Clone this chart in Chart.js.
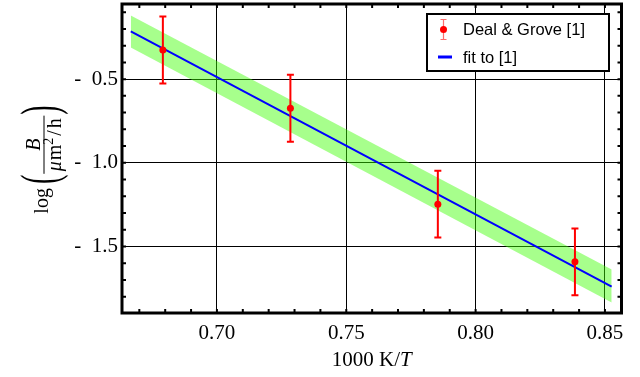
<!DOCTYPE html>
<html>
<head>
<meta charset="utf-8">
<script src="https://cdn.jsdelivr.net/npm/chart.js@4/dist/chart.umd.min.js"></script>
<style>
  html, body { margin: 0; padding: 0; background: #fff; }
  #wrap { width: 640px; height: 377px; }
</style>
</head>
<body>
<div id="wrap"><canvas id="chart" width="640" height="377"></canvas></div>
<script>
// Deal & Grove data
const invTemp = [0.6791, 0.7284, 0.7854, 0.8384];
const logB = [-0.326, -0.674, -1.247, -1.592];
const logBErr = [0.2, 0.2, 0.2, 0.2];

// linear fit and its confidence band
const fitX = [0.6667, 0.8526];
const fitY = [-0.215, -1.740];
const bandUpper = [-0.119, -1.637];
const bandLower = [-0.311, -1.835];

const xTicks = [0.70, 0.75, 0.80, 0.85];
const yTicks = [-1.5, -1.0, -0.5];
const X_MINOR = 0.01;
const Y_MINOR = 0.1;

const SERIF = '"Liberation Serif", "Times New Roman", serif';
const SANS = '"Liberation Sans", Arial, sans-serif';

const toPoints = (xs, ys) => xs.map((x, i) => ({ x, y: ys[i] }));

// vertical error bars for the data points
const errorBars = {
  id: 'errorBars',
  afterDatasetsDraw(chart) {
    const { ctx, scales: { x, y } } = chart;
    ctx.save();
    ctx.strokeStyle = '#ff0000';
    ctx.lineWidth = 2;
    invTemp.forEach((t, i) => {
      const px = x.getPixelForValue(t);
      const top = y.getPixelForValue(logB[i] + logBErr[i]);
      const bot = y.getPixelForValue(logB[i] - logBErr[i]);
      ctx.beginPath();
      ctx.moveTo(px, top); ctx.lineTo(px, bot);
      ctx.moveTo(px - 3.5, top); ctx.lineTo(px + 3.5, top);
      ctx.moveTo(px - 3.5, bot); ctx.lineTo(px + 3.5, bot);
      ctx.stroke();
    });
    ctx.restore();
  }
};

// thick frame with inward tick marks on all four sides
const frame = {
  id: 'frame',
  afterDraw(chart) {
    const { ctx, chartArea: a, scales: { x, y } } = chart;
    ctx.save();
    ctx.strokeStyle = '#000';
    ctx.lineWidth = 2;
    ctx.beginPath();
    const x0 = Math.ceil(x.min / X_MINOR) * X_MINOR;
    for (let v = x0; v <= x.max + 1e-9; v += X_MINOR) {
      const px = x.getPixelForValue(v);
      ctx.moveTo(px, a.bottom); ctx.lineTo(px, a.bottom - 4);
      ctx.moveTo(px, a.top); ctx.lineTo(px, a.top + 4);
    }
    const y0 = Math.ceil(y.min / Y_MINOR) * Y_MINOR;
    for (let v = y0; v <= y.max + 1e-9; v += Y_MINOR) {
      const py = y.getPixelForValue(v);
      ctx.moveTo(a.left, py); ctx.lineTo(a.left + 4, py);
      ctx.moveTo(a.right, py); ctx.lineTo(a.right - 4, py);
    }
    ctx.stroke();
    ctx.lineWidth = 3;
    ctx.strokeRect(a.left, a.top, a.right - a.left, a.bottom - a.top);

    drawLegend(ctx);
    drawXTitle(ctx, a);
    drawYTitle(ctx, a);
    ctx.restore();
  }
};

function drawLegend(ctx) {
  ctx.save();
  ctx.fillStyle = '#fff';
  ctx.fillRect(427, 14, 182, 57);
  ctx.strokeStyle = '#000';
  ctx.lineWidth = 2;
  ctx.strokeRect(427, 14, 182, 57);

  // error-bar marker
  ctx.strokeStyle = 'rgba(255,60,60,0.75)';
  ctx.lineWidth = 1.2;
  ctx.beginPath();
  ctx.moveTo(443.5, 19); ctx.lineTo(443.5, 40);
  ctx.moveTo(440.5, 19.5); ctx.lineTo(446.5, 19.5);
  ctx.moveTo(440.5, 39.5); ctx.lineTo(446.5, 39.5);
  ctx.stroke();
  ctx.fillStyle = '#ff0000';
  ctx.beginPath();
  ctx.arc(443.5, 29.5, 3.5, 0, Math.PI * 2);
  ctx.fill();

  // line marker
  ctx.strokeStyle = '#0000ff';
  ctx.lineWidth = 3;
  ctx.beginPath();
  ctx.moveTo(438, 57); ctx.lineTo(452, 57);
  ctx.stroke();

  ctx.fillStyle = '#000';
  ctx.font = '16.5px ' + SANS;
  ctx.textBaseline = 'alphabetic';
  ctx.fillText('Deal & Grove [1]', 463, 35);
  ctx.fillText('fit to [1]', 463, 63);
  ctx.restore();
}

function drawXTitle(ctx, a) {
  ctx.save();
  ctx.fillStyle = '#000';
  ctx.textBaseline = 'alphabetic';
  const up = '21px ' + SERIF;
  const it = 'italic 21px ' + SERIF;
  ctx.font = up;
  const w1 = ctx.measureText('1000 K/').width;
  ctx.font = it;
  const w2 = ctx.measureText('T').width;
  const x = (a.left + a.right) / 2 - (w1 + w2) / 2;
  ctx.font = up;
  ctx.fillText('1000 K/', x, 366);
  ctx.font = it;
  ctx.fillText('T', x + w1, 366);
  ctx.restore();
}

// tall, thin delimiter: the glyph stretched along its own height
function drawParen(ctx, ch, u, vCenter) {
  ctx.save();
  ctx.font = '20px ' + SERIF;
  const mt = ctx.measureText(ch);
  const mid = (mt.actualBoundingBoxAscent - mt.actualBoundingBoxDescent) / 2;
  ctx.translate(u, vCenter);
  ctx.scale(1.4, 2.6);
  ctx.fillText(ch, 0, mid);
  ctx.restore();
  return mt.width * 1.4;
}

function drawYTitle(ctx, a) {
  const up = '20px ' + SERIF;
  const it = 'italic 20px ' + SERIF;
  const small = '14px ' + SERIF;
  ctx.save();
  ctx.fillStyle = '#000';
  ctx.strokeStyle = '#000';
  ctx.textBaseline = 'alphabetic';
  ctx.translate(0, (a.top + a.bottom) / 2 + 1);
  ctx.rotate(-Math.PI / 2);

  const m = (font, s) => { ctx.font = font; return ctx.measureText(s).width; };
  const wLog = m(up, 'log');
  const wParen = m(up, '(') * 1.4;
  const wNum = m(it, 'B');
  const wMu = m(it, 'μ') + 1, wM = m(up, 'm'), w2 = m(small, '2') + 1;
  const wSlash = m(up, '/') + 3, wH = m(up, 'h');
  const wDen = wMu + wM + w2 + wSlash + wH;
  const wFrac = Math.max(wNum, wDen) + 5;
  const total = wLog + 4 + wParen + 1 + wFrac + 1 + wParen;

  const axis = 44;
  let u = -total / 2;
  ctx.font = up;
  ctx.fillText('log', u, 48);
  u += wLog + 4;
  u += drawParen(ctx, '(', u, axis) + 1;
  // fraction
  ctx.lineWidth = 1;
  ctx.beginPath();
  ctx.moveTo(u, axis); ctx.lineTo(u + wFrac, axis);
  ctx.stroke();
  ctx.font = it;
  ctx.fillText('B', u + (wFrac - wNum) / 2, axis - 4);
  let d = u + (wFrac - wDen) / 2;
  const denBase = axis + 17;
  ctx.fillText('μ', d, denBase); d += wMu;
  ctx.font = up;
  ctx.fillText('m', d, denBase); d += wM;
  ctx.font = small;
  ctx.fillText('2', d, denBase - 8); d += w2;
  ctx.font = up;
  ctx.fillText('/', d + 1, denBase); d += wSlash;
  ctx.fillText('h', d, denBase);
  u += wFrac + 1;
  drawParen(ctx, ')', u, axis);
  ctx.restore();
}

new Chart(document.getElementById('chart'), {
  type: 'line',
  data: {
    datasets: [
      {
        label: 'band upper',
        data: toPoints(fitX, bandUpper),
        borderWidth: 0,
        pointRadius: 0,
        backgroundColor: 'rgba(60,255,0,0.45)',
        fill: '+1',
        order: 3
      },
      {
        label: 'band lower',
        data: toPoints(fitX, bandLower),
        borderWidth: 0,
        pointRadius: 0,
        fill: false,
        order: 3
      },
      {
        label: 'fit to [1]',
        data: toPoints(fitX, fitY),
        borderColor: '#0000ff',
        borderWidth: 2,
        pointRadius: 0,
        fill: false,
        order: 2
      },
      {
        label: 'Deal & Grove [1]',
        data: toPoints(invTemp, logB),
        showLine: false,
        pointRadius: 3.5,
        pointBackgroundColor: '#ff0000',
        pointBorderWidth: 0,
        order: 1
      }
    ]
  },
  options: {
    responsive: false,
    animation: false,
    devicePixelRatio: 1,
    layout: { padding: { top: 4, right: 18.5, left: 0, bottom: 0 } },
    plugins: { legend: { display: false }, tooltip: { enabled: false } },
    scales: {
      x: {
        type: 'linear',
        min: 0.6633,
        max: 0.8564,
        afterBuildTicks: (s) => { s.ticks = xTicks.map((v) => ({ value: v })); },
        afterFit: (s) => { s.height = 64; s.paddingLeft = 0; s.paddingRight = 0; },
        grid: { color: '#000', lineWidth: 1, drawTicks: false },
        border: { display: false },
        ticks: {
          padding: 8,
          color: '#000',
          font: { family: SERIF, size: 21 },
          maxRotation: 0,
          callback: (v) => v.toFixed(2)
        }
      },
      y: {
        min: -1.8976,
        max: -0.051,
        afterBuildTicks: (s) => { s.ticks = yTicks.map((v) => ({ value: v })); },
        afterFit: (s) => { s.width = 122; s.paddingTop = 0; s.paddingBottom = 0; },
        grid: { color: '#000', lineWidth: 1, drawTicks: false },
        border: { display: false },
        ticks: {
          padding: 4,
          color: '#000',
          font: { family: SERIF, size: 21 },
          callback: (v) => '-  ' + Math.abs(v).toFixed(1)
        }
      }
    }
  },
  plugins: [errorBars, frame]
});
</script>
</body>
</html>
